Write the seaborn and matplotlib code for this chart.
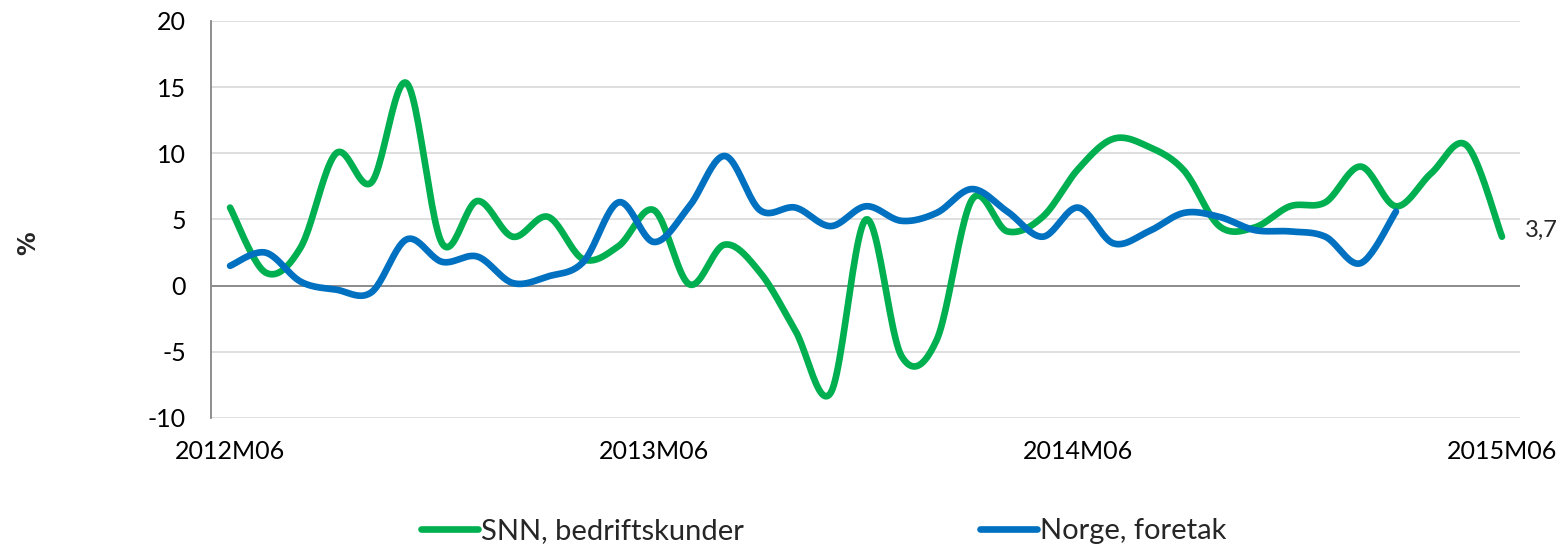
import numpy as np
import pandas as pd
import matplotlib
matplotlib.use("Agg")
import matplotlib.pyplot as plt
from matplotlib.lines import Line2D
import seaborn as sns

# Monthly growth, 2012M06 .. 2015M06 (37 months)
n_months = 37
tick_labels = ["2012M06", "2013M06", "2014M06", "2015M06"]
tick_every = 12

snn_bedrift = [5.9, 1.0, 2.9, 10.0, 7.8, 15.3, 3.2, 6.4, 3.7, 5.2,
               2.0, 3.0, 5.7, 0.1, 3.1, 1.0, -3.4, -8.1, 5.0, -5.3,
               -4.1, 6.5, 4.1, 5.2, 8.8, 11.1, 10.5, 8.7, 4.5, 4.4,
               6.0, 6.3, 9.0, 6.0, 8.5, 10.6, 3.7]
norge_foretak = [1.5, 2.5, 0.3, -0.3, -0.5, 3.5, 1.8, 2.2, 0.2, 0.7,
                 1.8, 6.3, 3.3, 6.0, 9.8, 5.7, 5.9, 4.5, 6.0, 4.9,
                 5.5, 7.3, 5.6, 3.7, 5.9, 3.2, 4.1, 5.5, 5.2, 4.2,
                 4.1, 3.7, 1.7, 5.6]

series_names = ["SNN, bedriftskunder", "Norge, foretak"]
colors = {"SNN, bedriftskunder": "#00B050", "Norge, foretak": "#0070C0"}


def smooth_curve(values, steps=24):
    """Smoothed line through every point (cubic Bezier, Catmull-Rom tangents)."""
    y = np.asarray(values, float)
    x = np.arange(len(y), dtype=float)
    p = np.column_stack([x, y])
    ext = np.vstack([p[:1], p, p[-1:]])
    t = np.linspace(0, 1, steps, endpoint=False)[:, None]
    out = []
    for i in range(len(p) - 1):
        p0, p1, p2, p3 = ext[i], ext[i + 1], ext[i + 2], ext[i + 3]
        b0 = p1
        b1 = p1 + (p2 - p0) / 6.0
        b2 = p2 - (p3 - p1) / 6.0
        b3 = p2
        seg = ((1 - t) ** 3) * b0 + 3 * ((1 - t) ** 2) * t * b1 \
            + 3 * (1 - t) * t ** 2 * b2 + t ** 3 * b3
        out.append(seg)
    out.append(p[-1:])
    return np.vstack(out)


frames = []
for name, vals in zip(series_names, [snn_bedrift, norge_foretak]):
    c = smooth_curve(vals)
    frames.append(pd.DataFrame({"x": c[:, 0], "verdi": c[:, 1], "serie": name}))
df = pd.concat(frames, ignore_index=True)

sns.set_theme(style="white")
plt.rcParams["font.family"] = ["Lato", "DejaVu Sans"]
plt.rcParams["axes.unicode_minus"] = False

fig = plt.figure(figsize=(15.65, 5.51), dpi=100)
ax = fig.add_axes([211 / 1565, 1 - 418 / 551, (1520 - 211) / 1565, (418 - 21) / 551])

# grid first, under the lines
for yv in range(-10, 21, 5):
    ax.axhline(yv, color="#D9D9D9", lw=1.2, zorder=0)
ax.axhline(0, color="#868686", lw=1.3, zorder=1)

sns.lineplot(data=df, x="x", y="verdi", hue="serie", palette=colors,
             hue_order=series_names, sort=False, estimator=None,
             linewidth=4.8, legend=False, ax=ax, solid_capstyle="round", zorder=3)

ax.set_xlim(-0.54, 36.51)
ax.set_ylim(-10, 20)
ax.set_yticks(range(-10, 21, 5))
ax.set_xticks(range(0, n_months, tick_every))
ax.set_xticklabels(tick_labels)
ax.tick_params(axis="both", length=0, labelsize=18, colors="black")
ax.tick_params(axis="y", pad=18)
ax.tick_params(axis="x", pad=16)
ax.set_xlabel("")
ax.set_ylabel("%", fontsize=17, fontweight="bold", rotation=90,
              fontfamily=["DejaVu Sans"])
ax.yaxis.set_label_coords(-0.1306, 0.44)

for side in ["top", "right", "bottom"]:
    ax.spines[side].set_visible(False)
ax.spines["left"].set_color("#868686")
ax.spines["left"].set_linewidth(1.3)

# value label at the last SNN point
last = snn_bedrift[-1]
ax.annotate(f"{last:.1f}".replace(".", ","), xy=(len(snn_bedrift) - 1, last),
            xytext=(16.5, 4.5), textcoords="offset points",
            ha="left", va="center", fontsize=17, annotation_clip=False)

handles = [Line2D([], [], color=colors[s], lw=4.8, solid_capstyle="round") for s in series_names]
fig.legend(handles, series_names, loc="center", bbox_to_anchor=(0.5265, 0.036),
           ncol=2, frameon=False, fontsize=21, handlelength=1.95,
           handletextpad=0.1, columnspacing=8.1, borderpad=0)

fig.savefig("out.png", dpi=100)
